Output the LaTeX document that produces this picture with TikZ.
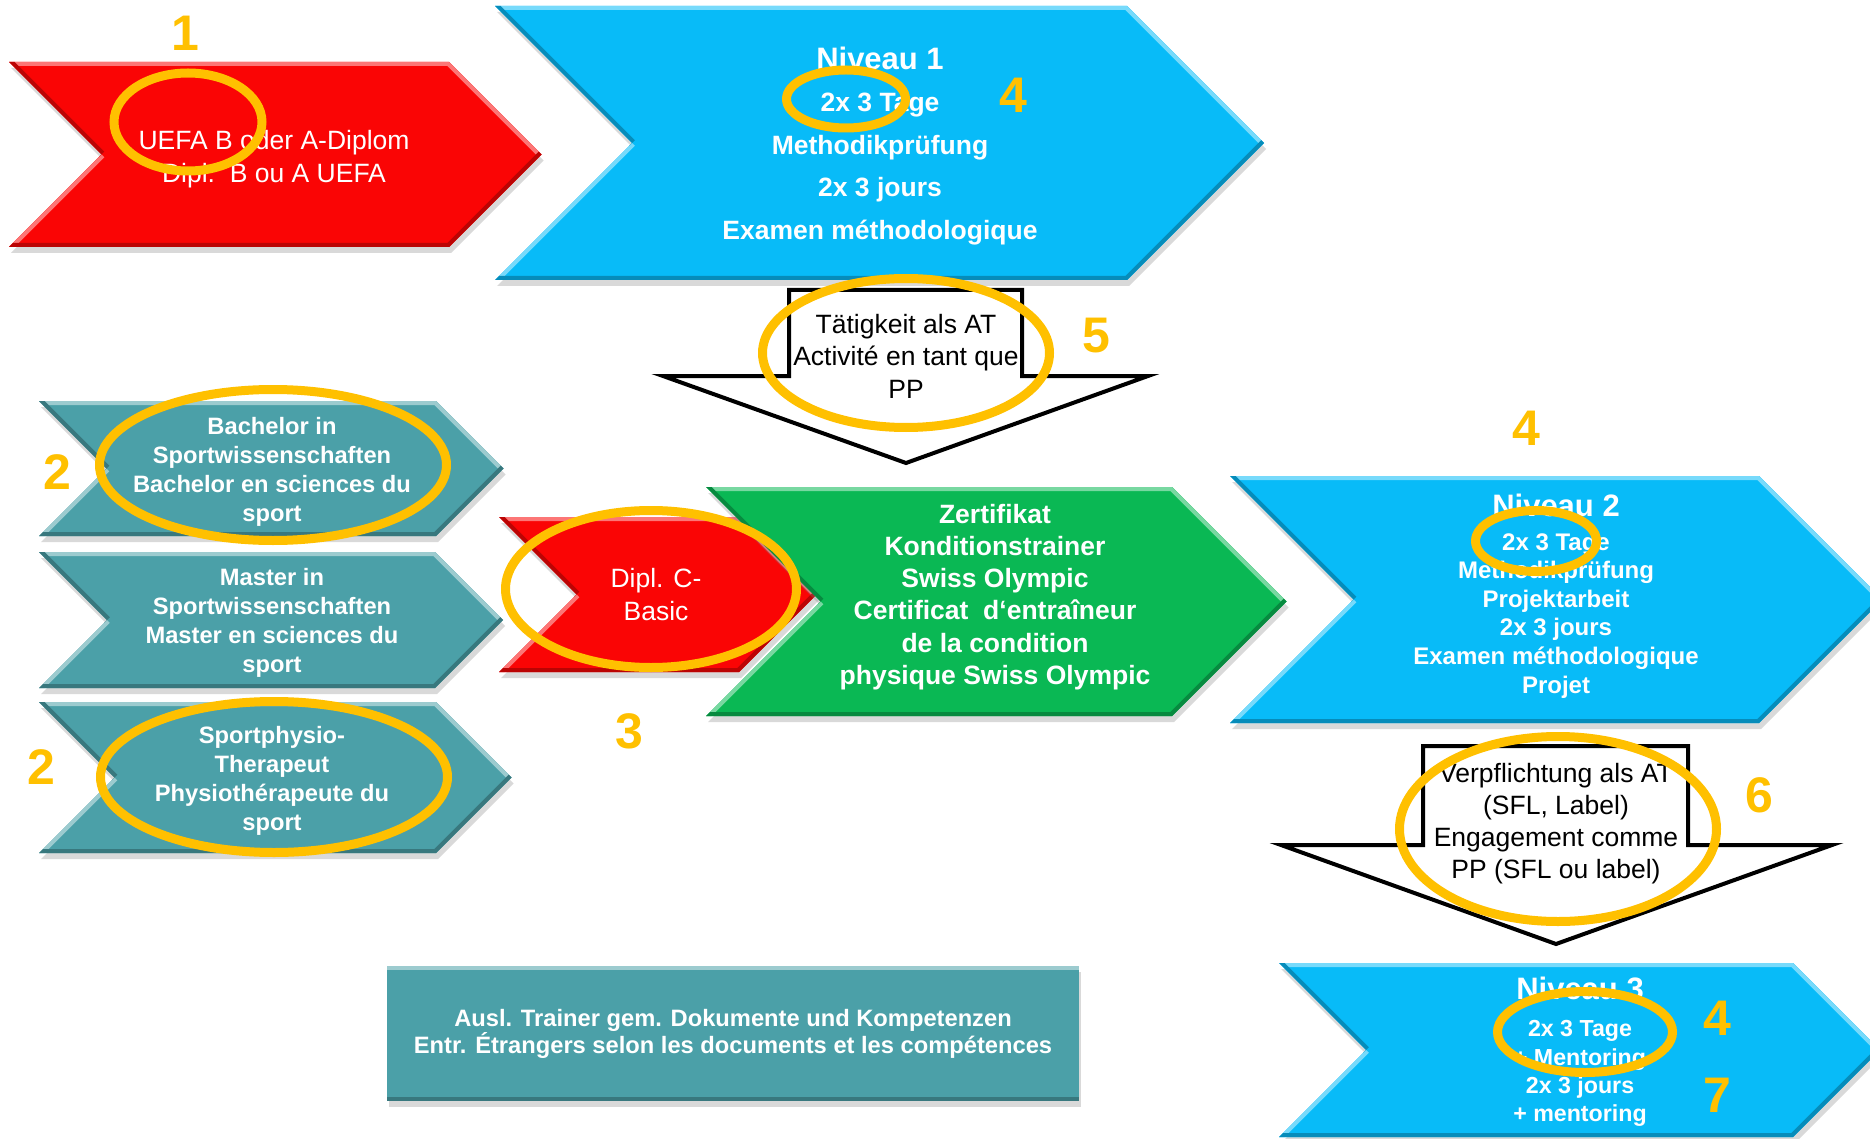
\documentclass[tikz,border=0pt]{standalone}
\usepackage{fontspec}
\setmainfont{Liberation Sans}
\usetikzlibrary{shadows}

\definecolor{chevred}{RGB}{250,5,5}
\definecolor{chevblue}{RGB}{8,187,248}
\definecolor{chevgreen}{RGB}{10,184,84}
\definecolor{chevteal}{RGB}{75,160,168}
\definecolor{ringgold}{RGB}{255,192,0}

\newcommand{\chevron}[5]{%
\fill[#5,drop shadow={shadow xshift=2pt,shadow yshift=-6pt,opacity=.3}] (#1,#2) -- ++(#3,0) -- ++({#4/2},{#4/2}) -- ++({-#4/2},{#4/2}) -- ++(-#3,0) -- ++({#4/2},{-#4/2}) -- cycle;
\begin{scope}
\clip (#1,#2) -- ++(#3,0) -- ++({#4/2},{#4/2}) -- ++({-#4/2},{#4/2}) -- ++(-#3,0) -- ++({#4/2},{-#4/2}) -- cycle;
\draw[#5!55!white,line width=8pt] (#1,#2) -- ++(#3,0) -- ++({#4/2},{#4/2});
\draw[#5!55!white,line width=8pt] ({#1+#4/2},{#2+#4/2}) -- ++({-#4/2},{#4/2});
\draw[#5!75!black,line width=8pt] ({#1+#3+#4/2},{#2+#4/2}) -- ++({-#4/2},{#4/2}) -- ++(-#3,0);
\draw[#5!75!black,line width=8pt] (#1,#2) -- ++({#4/2},{#4/2});
\end{scope}}

\begin{document}
\begin{tikzpicture}[x=1pt,y=-1pt,inner sep=0pt,outer sep=0pt,
txt/.style={text=white,align=center,font=\fontsize{26.5}{33}\selectfont},
btxt/.style={text=white,align=center,font=\bfseries\fontsize{26.5}{32.2}\selectfont},
stxt/.style={text=white,align=center,font=\bfseries\fontsize{23.7}{29}\selectfont},
atxt/.style={text=black,align=center,font=\fontsize{26.5}{32.5}\selectfont},
num/.style={text=ringgold,font=\bfseries\fontsize{50}{50}\selectfont},
ring/.style={draw=ringgold,line width=9pt},
blockarrow/.style={draw=black,fill=white,line width=4pt,miter limit=10}]

\useasboundingbox (0,0) rectangle (1870,1139);
\clip (0,0) rectangle (1870,1139);

\chevron{9}{62}{440}{185}{chevred}
\chevron{495}{6}{632}{274}{chevblue}
\draw[blockarrow] (789,290) -- (1022,290) -- (1022,376) -- (1148,376) -- (906,463) -- (663,376) -- (789,376) -- cycle;
\chevron{39}{401}{397}{135}{chevteal}
\chevron{39}{552}{396}{136}{chevteal}
\chevron{39}{702}{397}{151}{chevteal}
\chevron{499}{517}{240}{155}{chevred}
\chevron{706}{487}{466}{229}{chevgreen}
\chevron{1230}{476}{529}{247}{chevblue}
\draw[blockarrow] (1423,746) -- (1688,746) -- (1688,845) -- (1832,845) -- (1556,944) -- (1281,845) -- (1423,845) -- cycle;
\chevron{1279}{963}{514}{174}{chevblue}

\draw (274,159) node[txt] (uefa) {UEFA B oder A-Diplom\\Dipl.\ \ B ou A UEFA};
\draw (880,146) node[btxt,font=\bfseries\fontsize{26.5}{42.5}\selectfont] (niv1) {{\fontsize{31}{42.5}\selectfont Niveau 1}\\2x 3 Tage\\Methodikprüfung\\2x 3 jours\\Examen méthodologique};
\draw (906,356) node[atxt] (taet) {Tätigkeit als AT\\Activité en tant que\\PP};
\draw (272,472) node[stxt] (bach) {Bachelor in\\Sportwissenschaften\\Bachelor en sciences du\\sport};
\draw (272,623) node[stxt] (mast) {Master in\\Sportwissenschaften\\Master en sciences du\\sport};
\draw (272,781) node[stxt] (phys) {Sportphysio-\\Therapeut\\Physiothérapeute du\\sport};
\draw (656,594.5) node[txt] (dipc) {Dipl. C-\\Basic};
\draw (995,597) node[btxt] (zert) {Zertifikat\\Konditionstrainer\\Swiss Olympic\\Certificat\ \ d‘entraîneur\\de la condition\\physique Swiss Olympic};
\draw (1556,596) node[stxt,font=\bfseries\fontsize{24}{28.6}\selectfont] (niv2) {{\fontsize{31}{31}\selectfont Niveau 2}\\[5pt]2x 3 Tage\\Methodikprüfung\\Projektarbeit\\2x 3 jours\\Examen méthodologique\\Projet};
\draw (1556,823.5) node[atxt,font=\fontsize{26.5}{32}\selectfont] (verp) {Verpflichtung als AT\\(SFL, Label)\\Engagement comme\\PP (SFL ou label)};
\draw (1580,1052) node[stxt,font=\bfseries\fontsize{23.2}{28.3}\selectfont] (niv3) {{\fontsize{31}{31}\selectfont Niveau 3}\\[8.7pt]2x 3 Tage\\+ Mentoring\\2x 3 jours\\+ mentoring};
\draw (733,1033.5) node[stxt,fill=chevteal,minimum width=692pt,minimum height=135pt,font=\bfseries\fontsize{23.7}{26}\selectfont,drop shadow={shadow xshift=2pt,shadow yshift=-6pt,opacity=.3}] (ausl) {Ausl. Trainer gem. Dokumente und Kompetenzen\\Entr. Étrangers selon les documents et les compétences};
\draw[chevteal!55!white,line width=4pt] ([yshift=-2pt]ausl.north west) -- ([yshift=-2pt]ausl.north east);
\draw[chevteal!75!black,line width=4pt] ([yshift=2pt]ausl.south west) -- ([yshift=2pt]ausl.south east);

\draw[ring] (188,122) ellipse [x radius=74,y radius=49];
\draw[ring] (846,99) ellipse [x radius=59.5,y radius=29];
\draw[ring] (906,353) ellipse [x radius=143.5,y radius=74.5];
\draw[ring] (273,465) ellipse [x radius=173.5,y radius=75.5];
\draw[ring] (274,777) ellipse [x radius=173.5,y radius=75.5];
\draw[ring] (651,589) ellipse [x radius=145.5,y radius=78.5];
\draw[ring] (1536,541) ellipse [x radius=60.5,y radius=30.5];
\draw[ring] (1558,829) ellipse [x radius=158.5,y radius=92.5];
\draw[ring] (1585,1032) ellipse [x radius=87.5,y radius=40.5];

\draw (185,33) node[num] (m1) {1};
\draw (1013,95) node[num] (m4a) {4};
\draw (1096,336) node[num] (m5) {5};
\draw (57,472) node[num] (m2a) {2};
\draw (41,767) node[num] (m2b) {2};
\draw (629,731) node[num] (m3) {3};
\draw (1526,428) node[num] (m4b) {4};
\draw (1759,795) node[num] (m6) {6};
\draw (1717,1018) node[num] (m4c) {4};
\draw (1717,1095) node[num] (m7) {7};

\end{tikzpicture}
\end{document}
